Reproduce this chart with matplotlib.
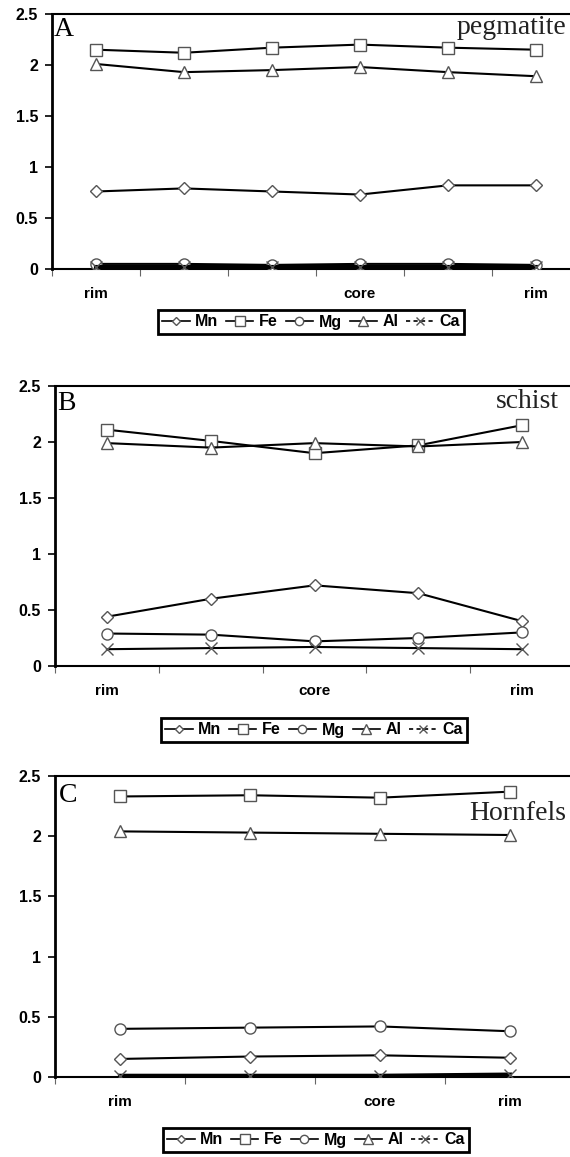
import matplotlib
matplotlib.use("Agg")
import matplotlib.pyplot as plt
from matplotlib.lines import Line2D

W, H = 570, 1157

elements = ['Mn', 'Fe', 'Mg', 'Al', 'Ca']
markers = {'Mn': 'D', 'Fe': 's', 'Mg': 'o', 'Al': '^', 'Ca': 'x'}
msizes = {'Mn': 6, 'Fe': 9, 'Mg': 8, 'Al': 9, 'Ca': 8}

# Panel A: pegmatite (6 points)
a_labels = ['rim', '', '', 'core', '', 'rim']
a_Mn = [0.76, 0.79, 0.76, 0.73, 0.82, 0.82]
a_Fe = [2.15, 2.12, 2.17, 2.20, 2.17, 2.15]
a_Mg = [0.05, 0.05, 0.04, 0.05, 0.05, 0.04]
a_Al = [2.01, 1.93, 1.95, 1.98, 1.93, 1.89]
a_Ca = [0.02, 0.02, 0.02, 0.02, 0.02, 0.02]

# Panel B: schist (5 points)
b_labels = ['rim', '', 'core', '', 'rim']
b_Mn = [0.44, 0.60, 0.72, 0.65, 0.40]
b_Fe = [2.11, 2.01, 1.90, 1.97, 2.15]
b_Mg = [0.29, 0.28, 0.22, 0.25, 0.30]
b_Al = [1.99, 1.95, 1.99, 1.96, 2.00]
b_Ca = [0.15, 0.16, 0.17, 0.16, 0.15]

# Panel C: hornfels (4 points)
c_labels = ['rim', '', 'core', 'rim']
c_Mn = [0.15, 0.17, 0.18, 0.16]
c_Fe = [2.33, 2.34, 2.32, 2.37]
c_Mg = [0.40, 0.41, 0.42, 0.38]
c_Al = [2.04, 2.03, 2.02, 2.01]
c_Ca = [0.01, 0.01, 0.01, 0.02]

panels = [
    ('A', 'pegmatite', a_labels, [a_Mn, a_Fe, a_Mg, a_Al, a_Ca]),
    ('B', 'schist', b_labels, [b_Mn, b_Fe, b_Mg, b_Al, b_Ca]),
    ('C', 'Hornfels', c_labels, [c_Mn, c_Fe, c_Mg, c_Al, c_Ca]),
]

# pixel boxes: left, right, top, bottom of plot area
boxes = [(52, 580, 14, 269), (55, 574, 386, 666), (55, 575, 776, 1077)]
letter_pos = [(54, 36), (57, 410), (59, 802)]
name_pos = [(457, 34), (496, 408), (469, 820)]
legend_pos = [(311, 322), (314, 730), (316, 1140)]
ca_width = [3.0, 1.5, 3.0]

sans = ['Liberation Sans', 'DejaVu Sans']
serif = ['Liberation Serif', 'DejaVu Serif']


def fx(x):
    return x / W


def fy(y):
    return 1 - y / H


fig = plt.figure(figsize=(W / 100, H / 100), dpi=100)

for i, (letter, name, labels, series) in enumerate(panels):
    l, r, t, b = boxes[i]
    ax = fig.add_axes([fx(l), fy(b), (r - l) / W, (b - t) / H])
    n = len(labels)
    xs = list(range(n))
    for el, vals in zip(elements, series):
        lw = ca_width[i] if el == 'Ca' else 1.5
        ax.plot(xs, vals, color='black', lw=lw, marker=markers[el],
                ms=msizes[el], mfc='white', mec='#555555', mew=1.0,
                zorder=3)
    ax.set_xlim(-0.5, n - 0.5)
    ax.set_ylim(0, 2.5)
    ax.set_yticks([0, 0.5, 1, 1.5, 2, 2.5])
    ax.set_yticklabels(['0', '0.5', '1', '1.5', '2', '2.5'],
                       fontfamily=sans, fontweight='bold', fontsize=11.5)
    ax.set_xticks([k - 0.5 for k in range(n + 1)])
    ax.set_xticklabels([])
    ax.tick_params(axis='x', direction='out', length=5, width=0.8,
                   color='#666666')
    ax.tick_params(axis='y', direction='out', length=5, width=1.2, pad=5)
    for k, lab in enumerate(labels):
        if lab:
            ax.annotate(lab, xy=(k, 0), xycoords=('data', 'axes fraction'),
                        xytext=(0, -18), textcoords='offset points',
                        ha='center', va='center', fontfamily=sans,
                        fontweight='bold', fontsize=11)
    ax.spines['left'].set_linewidth(2.0)
    ax.spines['top'].set_linewidth(1.5)
    ax.spines['bottom'].set_linewidth(1.5)
    ax.spines['right'].set_visible(False)

    fig.text(fx(letter_pos[i][0]), fy(letter_pos[i][1]), letter,
             fontfamily=serif, fontsize=20, ha='left', va='baseline')
    fig.text(fx(name_pos[i][0]), fy(name_pos[i][1]), name,
             fontfamily=serif, fontsize=20, ha='left', va='baseline',
             color='#222222')

    handles = [Line2D([], [], color='black', lw=1.2, marker=markers[el],
                      ms=msizes[el] * 0.75, mfc='white', mec='#555555',
                      ls=(0, (2.5, 2)) if el == 'Ca' else '-')
               for el in elements]
    leg = fig.legend(handles, elements, loc='center',
                     bbox_to_anchor=(fx(legend_pos[i][0]), fy(legend_pos[i][1])),
                     ncol=5, handlelength=1.7, handletextpad=0.35,
                     columnspacing=0.5, borderpad=0.3, fancybox=False,
                     framealpha=1, edgecolor='black',
                     prop={'family': 'Liberation Sans', 'weight': 'bold',
                           'size': 11.5})
    leg.get_frame().set_linewidth(2.0)

fig.savefig('out.png', dpi=100)
